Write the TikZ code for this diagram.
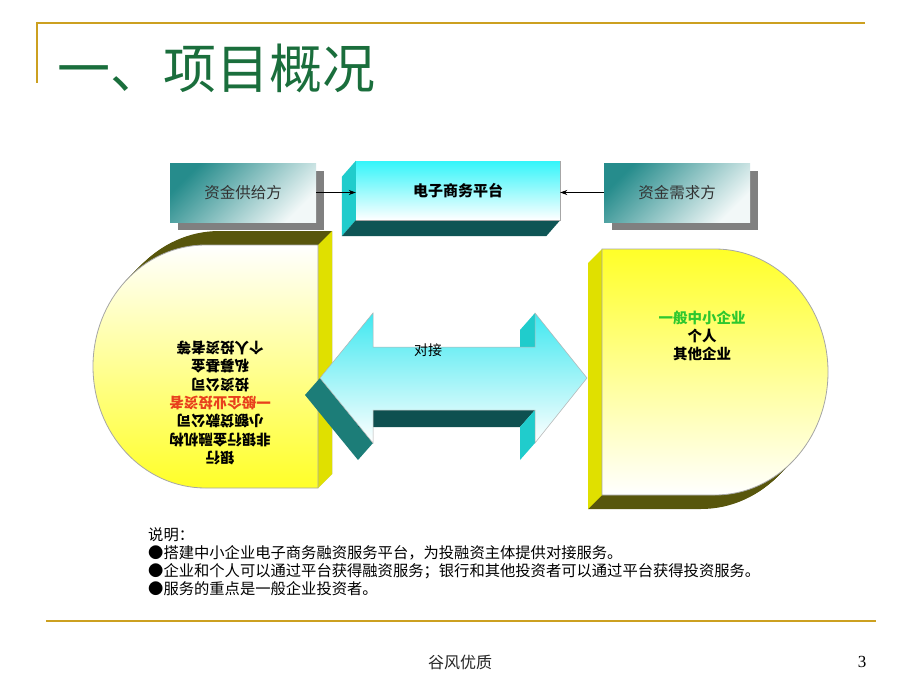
\documentclass[tikz,border=0pt]{standalone}
\usepackage{fontspec}
\setmainfont{Liberation Serif}
\newfontfamily\cjk{Noto Sans CJK SC}
\usetikzlibrary{arrows.meta,shadows}

\definecolor{goldline}{RGB}{204,160,32}
\definecolor{titlegreen}{RGB}{26,110,60}
\definecolor{boxteal}{RGB}{38,140,140}
\definecolor{boxshadow}{RGB}{128,128,128}
\definecolor{platcyan}{RGB}{51,245,250}
\definecolor{platside}{RGB}{32,204,204}
\definecolor{platdark}{RGB}{14,85,85}
\definecolor{dfront}{RGB}{255,255,40}
\definecolor{dside}{RGB}{224,224,0}
\definecolor{dolive}{RGB}{88,86,12}
\definecolor{arrowcyan}{RGB}{64,232,240}
\definecolor{arrowteal}{RGB}{28,125,120}
\definecolor{arrowdark}{RGB}{14,80,80}
\definecolor{redtext}{RGB}{232,64,28}
\definecolor{greentext}{RGB}{46,200,46}

\begin{document}
\begin{tikzpicture}[x=1pt, y=-1pt,
    gold/.style={draw=goldline, line width=2.4pt},
    sidebox/.style={top color=boxteal, bottom color=white!94!boxteal, shading angle=45,
      minimum width=146pt, minimum height=59pt, inner sep=0,
      font=\cjk\fontsize{15.5}{18}\selectfont, text=black!80,
      drop shadow={shadow xshift=8pt, shadow yshift=-8pt, fill=boxshadow, opacity=1}},
    conn/.style={-{Stealth[length=7pt,width=5pt]}, line width=.8pt},
    dtext/.style={align=center, inner sep=0, font=\cjk\bfseries\fontsize{14.5}{18.3}\selectfont}]
  \useasboundingbox[fill=white] (0,0) rectangle (920,690);

  % frame and title
  \draw[gold] (37,23) -- (865,23);
  \draw[gold] (37,22) -- (37,83);
  \draw[gold] (46,621) -- (876,621);
  \node[anchor=west, inner sep=0, text=titlegreen, font=\cjk\fontsize{53}{53}\selectfont] (title) at (57,68.5) {一、项目概况};

  % left D (investors)
  \foreach \k in {1,...,14}
    \fill[dolive, shift={(\k,-\k)}] (318,245) -- (205.5,245) arc[start angle=90, end angle=270, x radius=112.5pt, y radius=121.5pt] -- (318,488) -- cycle;
  \fill[dside] (318,245) -- (332,231) -- (332,474) -- (318,488) -- cycle;
  \shadedraw[top color=white, bottom color=dfront, draw=gray!70, line width=.8pt] (318,245) -- (205.5,245) arc[start angle=90, end angle=270, x radius=112.5pt, y radius=121.5pt] -- (318,488) -- cycle;
  \node[dtext, rotate=180] (investors) at (220,403) {银行\\非银行金融机构\\小额贷款公司\\\textcolor{redtext}{一般企业投资者}\\投资公司\\私募基金\\个人投资者等};

  % right D (borrowers)
  \foreach \k in {1,...,14}
    \fill[dolive, shift={(-\k,\k)}] (602,249) -- (715,249) arc[start angle=90, end angle=-90, x radius=113pt, y radius=123pt] -- (602,495) -- cycle;
  \fill[dside] (602,249) -- (588,263) -- (588,509) -- (602,495) -- cycle;
  \shadedraw[top color=dfront, bottom color=white, draw=gray!70, line width=.8pt] (602,249) -- (715,249) arc[start angle=90, end angle=-90, x radius=113pt, y radius=123pt] -- (602,495) -- cycle;
  \node[dtext] (borrowers) at (702,336) {\textcolor{greentext}{一般中小企业}\\个人\\其他企业};

  % double arrow
  \fill[arrowteal] (373,443) -- (320,378) -- (305,395) -- (358,460) -- cycle;
  \fill[arrowdark] (535,410) -- (373,410) -- (358,427) -- (520,427) -- cycle;
  \fill[platside] (535,347) -- (535,313) -- (520,330) -- (520,364) -- cycle;
  \fill[platside] (535,443) -- (535,410) -- (520,427) -- (520,460) -- cycle;
  \shadedraw[top color=arrowcyan, bottom color=white, draw=gray!60, line width=.5pt]
    (320,378) -- (373,313) -- (373,347) -- (535,347) -- (535,313) -- (587,378)
    -- (535,443) -- (535,410) -- (373,410) -- (373,443) -- cycle;
  \node[inner sep=0, font=\cjk\fontsize{14}{16}\selectfont] (link) at (428,350) {对接};

  % top row
  \node[sidebox] (supply) at (243,192.5) {资金供给方};
  \node[sidebox] (demand) at (677,192.5) {资金需求方};
  \node[top color=platcyan, bottom color=white, minimum width=204pt, minimum height=59pt, inner sep=0,
    font=\cjk\bfseries\fontsize{15}{18}\selectfont] (platform) at (458,190.5) {电子商务平台};
  \fill[platside] (platform.north west) -- ([shift={(-14,16)}]platform.north west)
    -- ([shift={(-14,16)}]platform.south west) -- (platform.south west) -- cycle;
  \fill[platdark] (platform.south west) -- ([shift={(-14,16)}]platform.south west)
    -- ([shift={(-14,16)}]platform.south east) -- (platform.south east) -- cycle;
  \draw[gray!70, line width=.8pt] (platform.south west) -- (platform.south east) -- (platform.north east);
  \draw[conn] (supply.east) -- (supply.east -| platform.west);
  \draw[conn] (demand.west) -- (demand.west -| platform.east);

  % notes
  \node[anchor=north west, align=left, inner sep=0, font=\cjk\fontsize{15.3}{18}\selectfont] (notes) at (148,527)
    {说明：\\●搭建中小企业电子商务融资服务平台，为投融资主体提供对接服务。\\●企业和个人可以通过平台获得融资服务；银行和其他投资者可以通过平台获得投资服务。\\●服务的重点是一般企业投资者。};

  % footer
  \node[font=\cjk\fontsize{16}{18}\selectfont, text=black!85] (footer) at (460,662) {谷风优质};
  \node[font=\fontsize{17}{18}\selectfont] (page) at (862,662) {3};
\end{tikzpicture}
\end{document}
